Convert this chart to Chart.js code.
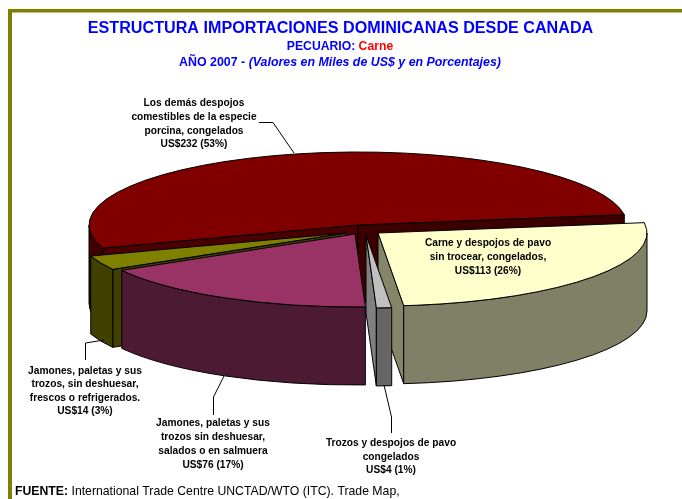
<!DOCTYPE html>
<html><head><meta charset="utf-8">
<style>html,body{margin:0;padding:0;background:#fff}canvas{display:block}</style>
<script src="https://cdn.jsdelivr.net/npm/chart.js@4"></script></head>
<body><canvas id="c" width="682" height="499"></canvas>
<script>
// Data
const categories = [
  "Los demás despojos comestibles de la especie porcina, congelados",
  "Carne y despojos de pavo sin trocear, congelados,",
  "Trozos y despojos de pavo congelados",
  "Jamones, paletas y sus trozos sin deshuesar, salados o en salmuera",
  "Jamones, paletas y sus trozos, sin deshuesar, frescos o refrigerados."
];
const values = [232, 113, 4, 76, 14];
// Colours
const topColors  = ["#800000", "#ffffcc", "#c0c0c0", "#993366", "#808000"];
const wallColors = ["#400000", "#808066", "#666666", "#4d1a33", "#404000"];
const cutColors  = ["#4a0000", "#858569", "#808080", "#4d1a33", "#404000"];
// Exploded-view displacement of each slice
const shiftX = [0, 20, 8, -3, -12];
const shiftY = [0, 8, 10, 9, 8];
const center = {x: 358, y: 225}, rx = 269, ry = 73, depth = 78;
// Paint order: back to front
const paintOrder = [0, 4, 1, 2, 3];
// Radial faces that can be seen: 's' = the slice's start edge, 'e' = its end edge
const faces = [["s","e"], ["e"], ["e"], [], ["s"]];

const bigLabel = ["Los demás despojos","comestibles de la especie","porcina, congelados","US$232 (53%)"];
const turkeyLabel = ["Carne y despojos de pavo","sin trocear, congelados,","US$113 (26%)"];
const piecesLabel = ["Trozos y despojos de pavo","congelados","US$4 (1%)"];
const hamSaltLabel = ["Jamones, paletas y sus","trozos sin deshuesar,","salados o en salmuera","US$76 (17%)"];
const hamFreshLabel = ["Jamones, paletas y sus","trozos, sin deshuesar,","frescos o refrigerados.","US$14 (3%)"];

const FF = '"Liberation Sans", Arial, sans-serif';
function runs(ctx, cx, y, parts){
  ctx.textAlign = 'left'; ctx.textBaseline = 'middle';
  let w = 0;
  parts.forEach(p => { ctx.font = p.font; w += ctx.measureText(p.t).width; });
  let x = cx === null ? parts.x0 : cx - w/2;
  parts.forEach(p => { ctx.font = p.font; ctx.fillStyle = p.color; ctx.fillText(p.t, x, y); x += ctx.measureText(p.t).width; });
}
function block(ctx, lines, cx, ys){
  ctx.font = 'bold 10.2px ' + FF; ctx.fillStyle = '#000';
  ctx.textAlign = 'center'; ctx.textBaseline = 'middle';
  lines.forEach((l,i) => ctx.fillText(l, cx, ys[i]));
}
function wall(ctx, cx, cy, a, b, color){
  const TAU = Math.PI*2;
  for (let k=-1;k<=2;k++){
    const lo = Math.max(a, k*TAU), hi = Math.min(b, k*TAU+Math.PI);
    if (hi <= lo) continue;
    ctx.beginPath();
    ctx.ellipse(cx, cy, rx, ry, 0, lo, hi);
    ctx.ellipse(cx, cy+depth, rx, ry, 0, hi, lo, true);
    ctx.closePath();
    ctx.fillStyle = color; ctx.fill(); ctx.stroke();
  }
}
function cut(ctx, cx, cy, ang, color){
  const px = cx + rx*Math.cos(ang), py = cy + ry*Math.sin(ang);
  ctx.beginPath();
  ctx.moveTo(cx,cy); ctx.lineTo(px,py); ctx.lineTo(px,py+depth); ctx.lineTo(cx,cy+depth);
  ctx.closePath();
  ctx.fillStyle = color; ctx.fill(); ctx.stroke();
}
const pie3d = {
  id: 'pie3d',
  beforeDraw(chart){
    const c = chart.ctx;
    c.save(); c.fillStyle = '#fff'; c.fillRect(0,0,682,499);
    c.fillStyle = '#808000'; c.fillRect(8,9,674,3.5); c.fillRect(8,9,4,490); c.restore();
  },
  beforeDatasetsDraw(chart){
    const c = chart.ctx, arcs = chart.getDatasetMeta(0).data;
    c.save(); c.lineWidth = 1; c.strokeStyle = '#000'; c.lineJoin = 'round';
    paintOrder.forEach(i => {
      const arc = arcs[i], cx = center.x + shiftX[i], cy = center.y + shiftY[i];
      const a = arc.startAngle, b = arc.endAngle;
      faces[i].forEach(f => cut(c, cx, cy, f === 's' ? a : b, (i === 0 && f === 'e') ? "#3c0000" : cutColors[i]));
      wall(c, cx, cy, a, b, wallColors[i]);
      // top face drawn by the arc element, mapped onto the ellipse
      c.save();
      c.translate(cx, cy); c.scale(rx/arc.outerRadius, ry/arc.outerRadius); c.translate(-arc.x, -arc.y);
      arc.draw(c);
      c.restore();
      c.beginPath(); c.moveTo(cx,cy); c.ellipse(cx,cy,rx,ry,0,a,b); c.closePath(); c.stroke();
    });
    c.restore();
    return false;
  },
  afterDraw(chart){
    const c = chart.ctx;
    c.save();
    const B = s => 'bold '+s+'px '+FF, BI = s => 'italic bold '+s+'px '+FF;
    runs(c, 340.5, 29, [{t:"ESTRUCTURA IMPORTACIONES DOMINICANAS DESDE CANADA", font:B(16.15), color:'#0000ff'}]);
    runs(c, 340, 47, [{t:"PECUARIO: ", font:B(12.2), color:'#0000ff'},{t:"Carne", font:B(12.2), color:'#ff0000'}]);
    runs(c, 340, 63, [{t:"AÑO 2007 - ", font:B(12.4), color:'#0000ff'},{t:"(Valores en Miles de US$ y en Porcentajes)", font:BI(12.4), color:'#0000ff'}]);
    block(c, bigLabel, 194, [103,117,131,144]);
    block(c, turkeyLabel, 488, [243,257,271]);
    block(c, hamFreshLabel, 85, [371,384,398,411]);
    block(c, hamSaltLabel, 213, [423,437,451,465]);
    block(c, piecesLabel, 391, [443,457,470]);
    c.strokeStyle = '#000'; c.lineWidth = 1;
    [[[259,122.5],[273,122.5],[294,153]],
     [[85.5,360],[85.5,343],[104,340]],
     [[213.5,415],[213.5,397],[224,376]],
     [[384,385],[391.5,417],[391.5,433]]].forEach(l => {
      c.beginPath(); l.forEach((p,i)=> i?c.lineTo(p[0],p[1]):c.moveTo(p[0],p[1])); c.stroke();
    });
    const f = [{t:"FUENTE:", font:B(12.25), color:'#000'},{t:" International Trade Centre UNCTAD/WTO (ITC). Trade Map,", font:'12.25px '+FF, color:'#000'}];
    f.x0 = 15; runs(c, null, 492, f);
    c.restore();
  }
};
new Chart(document.getElementById('c'), {
  type: 'pie',
  data: { labels: categories, datasets: [{ data: values, backgroundColor: topColors, borderWidth: 0 }] },
  options: {
    responsive: false, animation: false,
    rotation: 251.6,
    plugins: { legend: {display:false}, tooltip: {enabled:false} }
  },
  plugins: [pie3d]
});
</script></body></html>
